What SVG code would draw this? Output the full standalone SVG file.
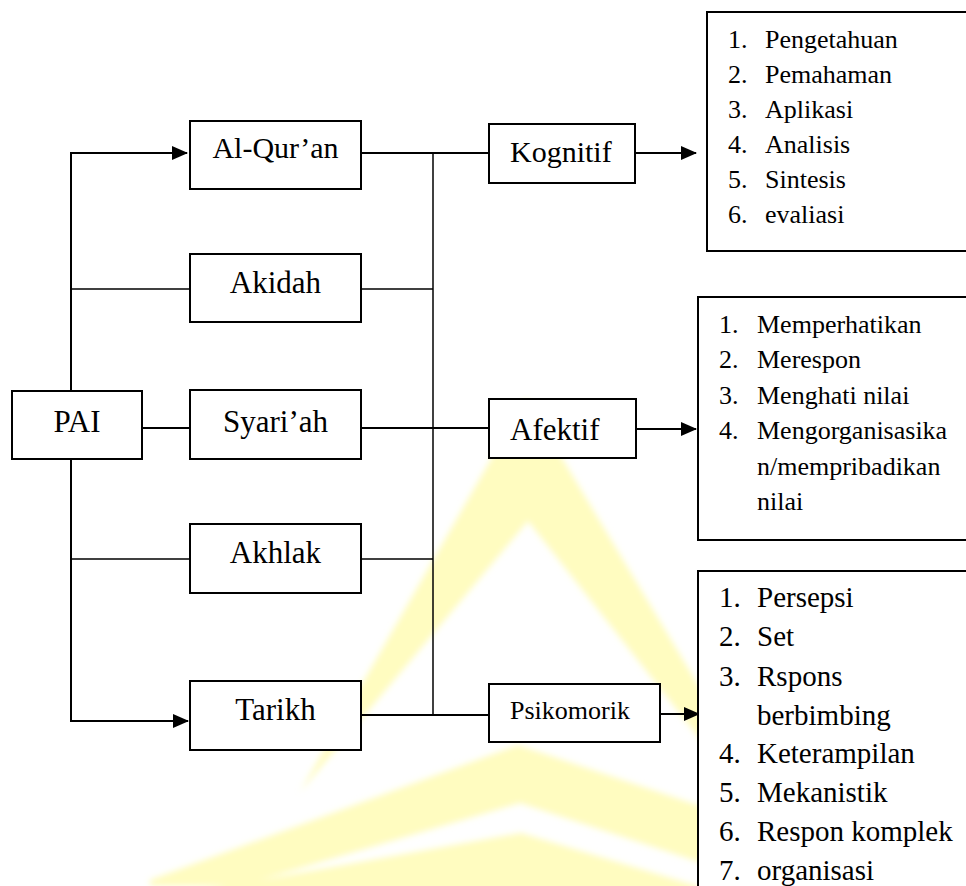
<svg xmlns="http://www.w3.org/2000/svg" width="966" height="886" viewBox="0 0 966 886">
  <style>
    .box { fill: #ffffff; stroke: #000000; stroke-width: 2; }
    .wire { fill: none; stroke: #000000; stroke-width: 2; }
    .thin { fill: none; stroke: #000000; stroke-width: 1.5; }
    text { font-family: "Liberation Serif", "Times New Roman", serif; fill: #000000; }
    .main { font-size: 31px; text-anchor: middle; }
    .sub { font-size: 30px; }
    .item { font-size: 26px; }
    .item-lg { font-size: 29px; }
    .mark { fill: #fffcc0; }
  </style>
  <defs>
    <marker id="arrow" markerUnits="userSpaceOnUse" markerWidth="16" markerHeight="14" refX="15" refY="7" orient="auto">
      <path d="M0,0 L16,7 L0,14 Z" fill="#000000"/>
    </marker>
    <filter id="soft" x="-10%" y="-10%" width="120%" height="120%">
      <feGaussianBlur stdDeviation="3"/>
    </filter>
  </defs>

  <rect x="0" y="0" width="966" height="886" fill="#ffffff"/>

  <!-- background emblem: pale chevron mark behind the chart -->
  <g id="emblem" class="mark" filter="url(#soft)">
    <path d="M526,398 L760,788 L745,796 L528,521 L300,792 Z"/>
    <path d="M150,880 L518,745 L760,826 L760,882 L520,803 L240,886 L150,886 Z"/>
    <path d="M150,900 L521,833 L760,905 Z"/>
  </g>

  <!-- connectors -->
  <g id="connectors">
    <!-- PAI trunk to the five subjects -->
    <path class="wire" d="M71,391 V153 H187" marker-end="url(#arrow)"/>
    <path class="wire" d="M71,459 V721 H188" marker-end="url(#arrow)"/>
    <path class="thin" d="M71,289 H190"/>
    <path class="wire" d="M142,428 H190"/>
    <path class="thin" d="M71,559 H190"/>
    <!-- collector bar to the three domains -->
    <path class="thin" d="M433,153 V715"/>
    <path class="wire" d="M361,153 H489"/>
    <path class="thin" d="M361,289 H433"/>
    <path class="wire" d="M361,428 H489"/>
    <path class="thin" d="M361,559 H433"/>
    <path class="wire" d="M361,715 H489"/>
    <!-- domains to their level lists -->
    <path class="wire" d="M635,153 H696" marker-end="url(#arrow)"/>
    <path class="wire" d="M636,429 H696" marker-end="url(#arrow)"/>
    <path class="wire" d="M660,714 H699" marker-end="url(#arrow)"/>
  </g>

  <g id="pai">
    <rect class="box" x="12" y="391" width="130" height="68"/>
    <text class="main" x="77" y="432">PAI</text>
  </g>
  <g id="alquran">
    <rect class="box" x="190" y="121" width="171" height="68"/>
    <text class="main" x="275.5" y="158" style="font-size:30px">Al-Qur’an</text>
  </g>
  <g id="akidah">
    <rect class="box" x="190" y="254" width="171" height="68"/>
    <text class="main" x="275.5" y="293">Akidah</text>
  </g>
  <g id="syariah">
    <rect class="box" x="190" y="390" width="171" height="69"/>
    <text class="main" x="275.5" y="432">Syari’ah</text>
  </g>
  <g id="akhlak">
    <rect class="box" x="190" y="524" width="171" height="69"/>
    <text class="main" x="275.5" y="563">Akhlak</text>
  </g>
  <g id="tarikh">
    <rect class="box" x="190" y="681" width="171" height="69"/>
    <text class="main" x="275.5" y="720">Tarikh</text>
  </g>

  <g id="kognitif">
    <rect class="box" x="489" y="124" width="146" height="59"/>
    <text class="sub" x="510" y="162">Kognitif</text>
  </g>
  <g id="afektif">
    <rect class="box" x="489" y="399" width="147" height="59"/>
    <text class="sub" x="510" y="440" style="font-size:31px">Afektif</text>
  </g>
  <g id="psikomorik">
    <rect class="box" x="489" y="684" width="171" height="58"/>
    <text class="item" x="510" y="719">Psikomorik</text>
  </g>

  <g id="kognitif-list">
    <rect class="box" x="707" y="12" width="270" height="239"/>
    <g class="item">
      <text x="728" y="48">1.</text><text x="765" y="48">Pengetahuan</text>
      <text x="728" y="83">2.</text><text x="765" y="83">Pemahaman</text>
      <text x="728" y="118">3.</text><text x="765" y="118">Aplikasi</text>
      <text x="728" y="153">4.</text><text x="765" y="153">Analisis</text>
      <text x="728" y="188">5.</text><text x="765" y="188">Sintesis</text>
      <text x="728" y="223">6.</text><text x="765" y="223">evaliasi</text>
    </g>
  </g>

  <g id="afektif-list">
    <rect class="box" x="698" y="297" width="280" height="243"/>
    <g class="item">
      <text x="719" y="333">1.</text><text x="757" y="333">Memperhatikan</text>
      <text x="719" y="368">2.</text><text x="757" y="368">Merespon</text>
      <text x="719" y="404">3.</text><text x="757" y="404">Menghati nilai</text>
      <text x="719" y="439">4.</text><text x="757" y="439">Mengorganisasika</text>
      <text x="757" y="475">n/mempribadikan</text>
      <text x="757" y="510">nilai</text>
    </g>
  </g>

  <g id="psikomotor-list">
    <rect class="box" x="698" y="571" width="280" height="330"/>
    <g class="item-lg">
      <text x="719" y="607">1.</text><text x="757" y="607">Persepsi</text>
      <text x="719" y="646">2.</text><text x="757" y="646">Set</text>
      <text x="719" y="686">3.</text><text x="757" y="686">Rspons</text>
      <text x="757" y="725">berbimbing</text>
      <text x="719" y="763">4.</text><text x="757" y="763">Keterampilan</text>
      <text x="719" y="802">5.</text><text x="757" y="802">Mekanistik</text>
      <text x="719" y="841">6.</text><text x="757" y="841">Respon komplek</text>
      <text x="719" y="880">7.</text><text x="757" y="880">organisasi</text>
    </g>
  </g>
</svg>
